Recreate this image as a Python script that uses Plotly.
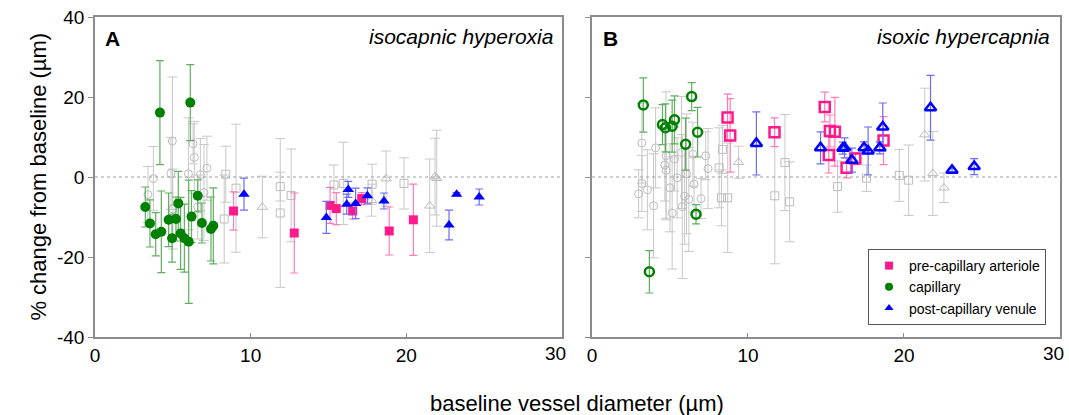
import plotly.graph_objects as go
from plotly.subplots import make_subplots

# ---------------- Panel A: isocapnic hyperoxia ----------------
artA_x = [8.9, 12.8, 15.1, 15.5, 16.55, 17.13, 18.9, 20.45]
artA_y = [-8.5, -14.0, -7.1, -7.9, -8.5, -5.4, -13.5, -10.7]
artA_e = [4.8, 10.0, 4.5, 4.0, 2.0, 1.5, 6.0, 8.9]

capA_x = [3.23, 3.53, 3.9, 4.26, 4.73, 4.95, 5.2, 5.35, 5.5, 5.74, 6.02, 6.2, 6.6, 6.87, 7.45, 7.6, 4.17, 6.12]
capA_y = [-7.5, -11.6, -14.3, -13.7, -10.7, -15.3, -10.5, -6.6, -14.1, -15.3, -16.2, -9.9, -4.7, -11.5, -13.0, -12.2, 16.1, 18.6]
capA_e = [5.0, 5.9, 5.4, 10.2, 6.7, 6.0, 5.5, 8.0, 9.0, 8.5, 15.4, 6.5, 4.0, 5.0, 8.0, 9.5, 13.0, 9.5]

venA_x = [9.57, 14.86, 16.27, 16.17, 16.74, 17.5, 18.56, 22.74, 23.23, 24.68]
venA_y = [-4.3, -10.1, -3.1, -6.8, -6.6, -4.7, -6.0, -12.0, -4.3, -5.0]
venA_e = [4.0, 4.0, 2.0, 2.5, 3.8, 2.0, 2.0, 3.7, 0.4, 2.0]

grayCircA_x = [3.4, 3.75, 4.88, 4.97, 5.0, 6.0, 6.3, 6.38, 6.6, 6.77, 7.0, 7.19]
grayCircA_y = [-4.4, -0.4, 0.9, 9.0, -8.0, 0.8, 8.3, 4.9, -7.5, 0.6, -3.9, 2.2]
grayCircA_e = [7.0, 8.0, 9.0, 16.0, 10.0, 14.0, 5.0, 9.0, 8.0, 9.0, 12.0, 8.0]

graySqA_x = [8.4, 9.06, 8.3, 11.9, 11.9, 12.6, 15.35, 15.95, 17.8, 19.85]
graySqA_y = [0.7, -2.8, -10.5, -2.4, -9.0, -4.6, -2.0, -1.6, -1.8, -1.6]
graySqA_e = [7.0, 16.0, 11.0, 3.6, 18.6, 11.6, 5.0, 10.3, 5.0, 6.4]

grayTriA_x = [10.75, 18.7, 17.77, 21.5, 21.84, 21.95]
grayTriA_y = [-7.5, -0.4, -5.8, -7.2, 0.1, -0.3]
grayTriA_e = [7.7, 6.9, 4.0, 11.7, 9.6, 12.0]

# ---------------- Panel B: isoxic hypercapnia ----------------
artB_x = [8.69, 8.86, 11.7, 14.92, 15.18, 15.25, 15.57, 16.32, 16.88, 18.69]
artB_y = [14.9, 10.4, 11.2, 17.5, 5.5, 11.5, 11.3, 2.3, 4.6, 9.1]
artB_e = [5.8, 9.2, 3.6, 3.7, 4.5, 4.0, 8.6, 2.5, 1.5, 6.0]

capB_x = [3.29, 3.68, 4.52, 4.71, 5.14, 5.29, 6.0, 6.39, 6.77, 6.67]
capB_y = [18.0, -23.7, 13.1, 12.3, 12.7, 14.3, 8.2, 20.1, 11.2, -9.3]
capB_e = [6.8, 5.3, 5.0, 6.0, 6.5, 6.0, 6.5, 3.5, 6.2, 2.4]

venB_x = [10.54, 14.65, 16.08, 16.19, 16.66, 17.44, 17.7, 18.45, 18.64, 21.7, 23.08, 24.5]
venB_y = [8.4, 7.3, 7.2, 7.3, 4.2, 7.3, 6.5, 7.3, 12.5, 17.3, 1.7, 2.6]
venB_e = [7.9, 4.0, 1.5, 2.5, 3.0, 1.5, 6.0, 1.5, 6.0, 8.1, 0.4, 2.0]

grayCircB_x = [2.99, 3.2, 3.2, 3.55, 3.95, 4.08, 4.67, 4.75, 4.75, 5.0, 5.14, 5.29, 5.46,
               5.74, 5.79, 5.94, 6.06, 6.21, 6.47, 6.54, 6.99, 7.29, 7.44]
grayCircB_y = [-4.2, 8.5, -1.6, -3.2, -7.2, 7.3, 3.0, 1.7, 5.3, -2.7, -9.0, 4.5, -0.2,
               6.1, -7.4, -4.8, 0.8, -5.6, 5.7, -1.8, -5.4, 5.3, 2.1]
grayCircB_e = [6.0, 10.0, 7.0, 10.0, 13.0, 10.0, 9.0, 12.0, 16.0, 11.0, 14.0, 8.0, 10.0,
               14.0, 18.0, 12.0, 15.0, 13.0, 8.0, 7.0, 5.0, 6.0, 10.0]

graySqB_x = [8.15, 8.37, 8.3, 8.7, 11.72, 12.37, 12.67, 15.74, 17.6, 19.7, 20.3]
graySqB_y = [2.3, 6.9, -5.2, -5.2, -4.7, 3.6, -6.2, -2.4, -0.3, 0.4, -0.8]
graySqB_e = [10.0, 6.0, 7.0, 13.7, 17.0, 12.0, 10.0, 6.4, 3.3, 6.5, 8.8]

grayTriB_x = [9.4, 21.33, 21.85, 22.56]
grayTriB_y = [3.7, 10.6, 0.9, -2.7]
grayTriB_e = [4.0, 11.6, 10.5, 3.7]

legend_names = ["pre-capillary arteriole", "capillary", "post-capillary venule"]
x_ticks = [0, 10, 20, 30]
x_ticklabels = ["0", "10", "20", ""]      # the "30" label is set slightly inward, as in the source
x_last_label = "30"
y_ticks = [-40, -20, 0, 20, 40]
y_ticklabels = ["-40", "-20", "0", "20", "40"]

PINK = "#FF1A8C"
PINK_E = "#FF7DB8"
GREEN = "#008000"
GREEN_E = "#5FAF5F"
BLUE = "#0000FF"
BLUE_E = "#6C6CFF"
GRAY = "#BDBDBD"
GRAY_E = "#C8C8C8"
FONT = "Liberation Sans, Arial, sans-serif"

fig = make_subplots(rows=1, cols=2)


def add(col, xs, ys, es, symbol, color, ecolor, size, lw=1.0, ethick=1.2, cap=4):
    fig.add_trace(go.Scatter(
        x=xs, y=ys, mode="markers", showlegend=False, hoverinfo="skip",
        marker=dict(symbol=symbol, size=size, color=color, line=dict(width=lw, color=color)),
        error_y=dict(type="data", array=es, visible=True, color=ecolor, thickness=ethick, width=cap),
    ), row=1, col=col)


# gray (drawn first)
add(1, grayCircA_x, grayCircA_y, grayCircA_e, "circle-open", GRAY, GRAY_E, 8, 1.0, 1.0, 5)
add(1, graySqA_x, graySqA_y, graySqA_e, "square-open", GRAY, GRAY_E, 8, 1.0, 1.0, 5)
add(1, grayTriA_x, grayTriA_y, grayTriA_e, "triangle-up-open", GRAY, GRAY_E, 9, 1.0, 1.0, 5)
add(2, grayCircB_x, grayCircB_y, grayCircB_e, "circle-open", GRAY, GRAY_E, 8, 1.0, 1.0, 5)
add(2, graySqB_x, graySqB_y, graySqB_e, "square-open", GRAY, GRAY_E, 8, 1.0, 1.0, 5)
add(2, grayTriB_x, grayTriB_y, grayTriB_e, "triangle-up-open", GRAY, GRAY_E, 9, 1.0, 1.0, 5)

# coloured panel A (filled)
add(1, artA_x, artA_y, artA_e, "square", PINK, PINK_E, 9, 0)
add(1, capA_x, capA_y, capA_e, "circle", GREEN, GREEN_E, 10, 0)
add(1, venA_x, venA_y, venA_e, "triangle-up", BLUE, BLUE_E, 10, 0)

# coloured panel B (open)
add(2, artB_x, artB_y, artB_e, "square-open", PINK, PINK_E, 10, 2.5)
add(2, capB_x, capB_y, capB_e, "circle-open", GREEN, GREEN_E, 9, 2.5)
add(2, venB_x, venB_y, venB_e, "triangle-up-open", BLUE, BLUE_E, 10, 2.5)

# legend entries
for name, sym, col in zip(legend_names, ["square", "circle", "triangle-up"], [PINK, GREEN, BLUE]):
    fig.add_trace(go.Scatter(x=[None], y=[None], mode="markers", name=name,
                             marker=dict(symbol=sym, size=8, color=col)), row=1, col=2)

# zero lines
for c in (1, 2):
    fig.add_hline(y=0, line=dict(color="#A0A0A0", width=1, dash="dot"), row=1, col=c)

W, H = 1069, 415
L, R, T, B = 95, 7, 16, 78
pw = W - L - R
ph = H - T - B
A0, A1, B0, B1 = 95, 563, 593, 1062
dA = [0, (A1 - L) / pw]
dB = [(B0 - L) / pw, 1]
wA = A1 - A0
wB = B1 - B0

axis_common = dict(showline=True, linecolor="#8C8C8C", linewidth=1.5, mirror=True,
                   showgrid=False, zeroline=False, tickcolor="#8C8C8C",
                   tickfont=dict(family=FONT, size=19, color="#000"))
fig.update_xaxes(range=[0, 30], tickvals=x_ticks, ticktext=x_ticklabels,
                 ticks="inside", ticklen=4, **axis_common)
fig.update_yaxes(range=[-40, 40], tickvals=y_ticks, ticktext=y_ticklabels,
                 ticks="outside", ticklen=5, **axis_common)
fig.update_layout(
    xaxis=dict(domain=dA), xaxis2=dict(domain=dB),
    yaxis2=dict(showticklabels=False),
)

label_y = (H - B - 354) / ph
fig.update_layout(
    width=W, height=H,
    margin=dict(l=L, r=R, t=T, b=B),
    plot_bgcolor="white", paper_bgcolor="white",
    font=dict(family=FONT, color="#000"),
    legend=dict(x=(1048 - L) / pw, xanchor="right", y=(H - B - 325) / ph, yanchor="bottom",
                bordercolor="#555", borderwidth=1, bgcolor="white",
                font=dict(family=FONT, size=14), itemwidth=30, tracegroupgap=2),
    annotations=[
        dict(text="<b>A</b>", xref="x domain", yref="paper", x=(103 - A0) / wA, y=(H - B - 38) / ph,
             xanchor="left", yanchor="middle", showarrow=False, font=dict(family=FONT, size=21)),
        dict(text="<i>isocapnic hyperoxia</i>", xref="x domain", yref="paper", x=(556 - A0) / wA,
             y=(H - B - 36) / ph, xanchor="right", yanchor="middle", showarrow=False,
             font=dict(family=FONT, size=21)),
        dict(text="<b>B</b>", xref="x2 domain", yref="paper", x=(602 - B0) / wB, y=(H - B - 38) / ph,
             xanchor="left", yanchor="middle", showarrow=False, font=dict(family=FONT, size=21)),
        dict(text="<i>isoxic hypercapnia</i>", xref="x2 domain", yref="paper", x=(1054 - B0) / wB,
             y=(H - B - 36) / ph, xanchor="right", yanchor="middle", showarrow=False,
             font=dict(family=FONT, size=21)),
        dict(text=x_last_label, xref="paper", yref="paper", x=(556 - L) / pw, y=label_y,
             xanchor="center", yanchor="middle", showarrow=False, font=dict(family=FONT, size=19)),
        dict(text=x_last_label, xref="paper", yref="paper", x=(1055 - L) / pw, y=label_y,
             xanchor="center", yanchor="middle", showarrow=False, font=dict(family=FONT, size=19)),
        dict(text="% change from baseline (µm)", xref="paper", yref="paper", x=(38 - L) / pw,
             y=(H - B - 176) / ph, xanchor="center", yanchor="middle", textangle=-90,
             showarrow=False, font=dict(family=FONT, size=22)),
        dict(text="baseline vessel diameter (µm)", xref="paper", yref="paper", x=(578 - L) / pw,
             y=(H - B - 404) / ph, xanchor="center", yanchor="middle",
             showarrow=False, font=dict(family=FONT, size=22)),
    ],
)

fig.write_html(
    "out.html",
    config={"displayModeBar": False, "responsive": False},
    post_script="document.body.style.margin='0';document.body.style.overflow='hidden';"
                "document.documentElement.style.overflow='hidden';",
)
